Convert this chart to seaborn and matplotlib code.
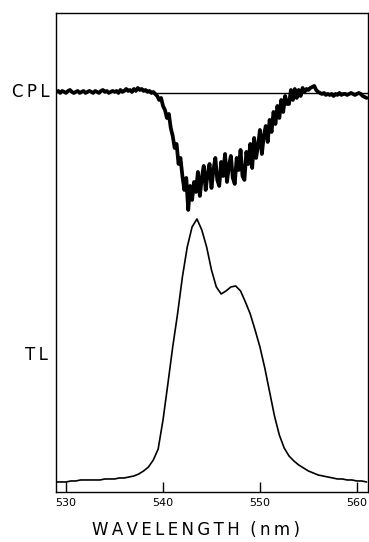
import numpy as np
import seaborn as sns
import matplotlib.pyplot as plt

# CPL trace, sampled every 0.2 nm from 529 to 561 nm (arb. units, 0 = zero line)
cpl = [
    0, 1, -1, 1, 0, -1, 1, 2, 0, -1,
    0, 1, -1, 0, 1, -1, 0, 1, 0, -1,
    1, 0, -1, 1, 2, 0, 1, -1, 0, 1,
    0, 1, -1, 2, 0, 1, 3, 1, 2, 0,
    3, 1, 4, 2, 3, 1, 2, 0, 1, -1,
    0, -2, -4, -8, -6, -14, -18, -26, -22, -36,
    -44, -56, -52, -72, -66, -84, -98, -86, -118, -94,
    -108, -90, -100, -80, -104, -86, -74, -98, -82, -72,
    -96, -78, -66, -88, -94, -70, -84, -62, -90, -74,
    -64, -86, -92, -66, -78, -58, -84, -88, -60, -72,
    -52, -76, -46, -66, -54, -38, -62, -44, -34, -50,
    -28, -40, -20, -32, -14, -26, -8, -20, -4, -12,
    -12, 2, -8, 3, -6, 2, -4, 4, 0, 3,
    2, 4, 5, 6, 2, 0, -1, -2, -1, -3,
    -2, -3, -2, -4, -2, -3, -1, -3, -2, -2,
    -3, -2, -1, -2, -3, -2, -1, -2, -4, -5,
    -6,
]

# total luminescence, sampled every 0.5 nm from 529 to 561 nm (arb. units)
tl = [
    10, 10, 10, 11, 11, 12, 12, 12, 12, 12,
    13, 13, 13, 14, 14, 15, 16, 18, 21, 25,
    32, 43, 72, 108, 145, 178, 215, 245, 265, 273,
    262, 245, 222, 205, 198, 201, 205, 206, 201, 190,
    178, 162, 145, 124, 100, 76, 57, 44, 36, 31,
    27, 24, 21, 19, 17, 16, 15, 14, 13, 13,
    12, 12, 11, 11, 10,
]

xticks = [530, 540, 550, 560]
cpl_zero = 400
cpl_line_start = 539.3

cpl_wl = np.linspace(529, 561, len(cpl))
tl_wl = np.linspace(529, 561, len(tl))

sns.set_style("white")
plt.rcParams['font.family'] = ['DejaVu Sans']
plt.rcParams['text.color'] = 'black'

fig = plt.figure(figsize=(3.69, 5.42), dpi=100)
ax = fig.add_axes([0.1518, 0.0923, 0.8455, 0.8838])

sns.lineplot(x=cpl_wl, y=np.array(cpl) + cpl_zero, ax=ax, color='black', lw=2.7)
ax.plot([cpl_line_start, 561.2], [cpl_zero - 1, cpl_zero - 1], color='black', lw=1.0)
sns.lineplot(x=tl_wl, y=tl, ax=ax, color='black', lw=1.2)

ax.set_xlim(528.96, 561.15)
ax.set_ylim(0, 479)
ax.set_yticks([])
ax.set_xticks(xticks)
ax.tick_params(axis='x', bottom=True, direction='in', length=7, width=1, pad=4,
               labelsize=8, colors='black')
for s in ax.spines.values():
    s.set_color('black')
    s.set_linewidth(1.0)

thin = '\u2009'
ax.set_xlabel(thin.join('WAVELENGTH') + '  ' + thin.join('(nm)'),
              fontsize=12, labelpad=10, color='black')
ax.xaxis.label.set_x(0.45)
ax.text(-0.02, cpl_zero, thin.join('CPL'), transform=ax.get_yaxis_transform(),
        ha='right', va='center', fontsize=12, color='black')
ax.text(-0.025, 492 - 355, thin.join('TL'), transform=ax.get_yaxis_transform(),
        ha='right', va='center', fontsize=12, color='black')

fig.savefig('out.png', dpi=100)
